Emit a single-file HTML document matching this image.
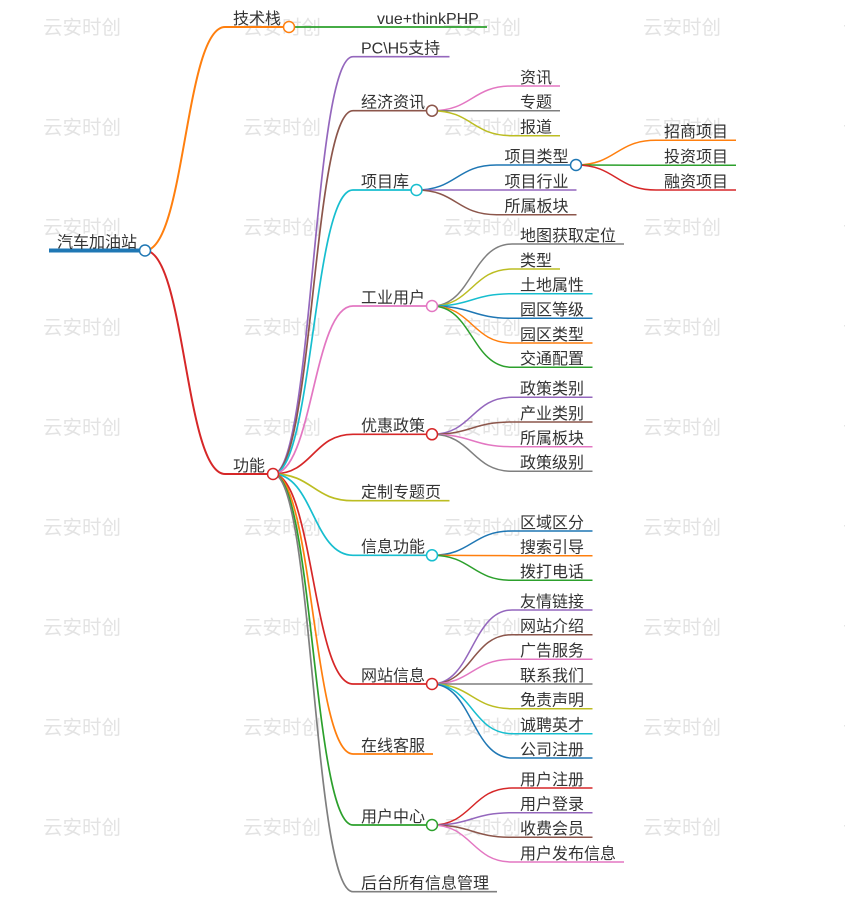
<!DOCTYPE html>
<html>
<head>
<meta charset="utf-8">
<style>
html,body{margin:0;padding:0;background:#fff;}
svg{display:block;}
.wm{font-family:"Liberation Sans","Noto Sans CJK SC",sans-serif;font-size:19.5px;fill:#e3e3e3;}
.t{font-family:"Liberation Sans","Noto Sans CJK SC",sans-serif;font-size:16px;fill:#333;}
path{fill:none;}
circle{fill:#fff;stroke-width:1.5;}
</style>
</head>
<body>
<svg width="845" height="899" viewBox="0 0 845 899" xmlns="http://www.w3.org/2000/svg">
<g class="wm">
<text x="43" y="34">云安时创</text><text x="243" y="34">云安时创</text><text x="443" y="34">云安时创</text><text x="643" y="34">云安时创</text><text x="843" y="34">云安时创</text>
<text x="43" y="134">云安时创</text><text x="243" y="134">云安时创</text><text x="443" y="134">云安时创</text><text x="643" y="134">云安时创</text><text x="843" y="134">云安时创</text>
<text x="43" y="234">云安时创</text><text x="243" y="234">云安时创</text><text x="443" y="234">云安时创</text><text x="643" y="234">云安时创</text><text x="843" y="234">云安时创</text>
<text x="43" y="334">云安时创</text><text x="243" y="334">云安时创</text><text x="443" y="334">云安时创</text><text x="643" y="334">云安时创</text><text x="843" y="334">云安时创</text>
<text x="43" y="434">云安时创</text><text x="243" y="434">云安时创</text><text x="443" y="434">云安时创</text><text x="643" y="434">云安时创</text><text x="843" y="434">云安时创</text>
<text x="43" y="534">云安时创</text><text x="243" y="534">云安时创</text><text x="443" y="534">云安时创</text><text x="643" y="534">云安时创</text><text x="843" y="534">云安时创</text>
<text x="43" y="634">云安时创</text><text x="243" y="634">云安时创</text><text x="443" y="634">云安时创</text><text x="643" y="634">云安时创</text><text x="843" y="634">云安时创</text>
<text x="43" y="734">云安时创</text><text x="243" y="734">云安时创</text><text x="443" y="734">云安时创</text><text x="643" y="734">云安时创</text><text x="843" y="734">云安时创</text>
<text x="43" y="834">云安时创</text><text x="243" y="834">云安时创</text><text x="443" y="834">云安时创</text><text x="643" y="834">云安时创</text><text x="843" y="834">云安时创</text>
</g>

<!-- root -->
<path d="M49,250.5 H145" stroke="#1f77b4" stroke-width="4"/>
<!-- depth 1 -->
<path d="M145,250.5 C185,250.5 185,27 225,27 H289" stroke="#ff7f0e" stroke-width="2"/>
<path d="M145,250.5 C185,250.5 185,474 225,474 H273" stroke="#d62728" stroke-width="2"/>
<!-- depth 2 -->
<path d="M289,27 C329,27 329,27 369,27 H487" stroke="#2ca02c" stroke-width="1.7"/>
<g stroke-width="1.7">
<path d="M273,474 C313,474 313,56.7 353,56.7 H449.5" stroke="#9467bd"/>
<path d="M273,474 C313,474 313,110.7 353,110.7 H432" stroke="#8c564b"/>
<path d="M273,474 C313,474 313,190 353,190 H416.5" stroke="#17becf"/>
<path d="M273,474 C313,474 313,306 353,306 H432" stroke="#e377c2"/>
<path d="M273,474 C313,474 313,434.3 353,434.3 H432" stroke="#d62728"/>
<path d="M273,474 C313,474 313,500.7 353,500.7 H449.5" stroke="#bcbd22"/>
<path d="M273,474 C313,474 313,555.3 353,555.3 H432" stroke="#17becf"/>
<path d="M273,474 C313,474 313,684 353,684 H432" stroke="#d62728"/>
<path d="M273,474 C313,474 313,754 353,754 H433" stroke="#ff7f0e"/>
<path d="M273,474 C313,474 313,825 353,825 H432" stroke="#2ca02c"/>
<path d="M273,474 C313,474 313,891.7 353,891.7 H497" stroke="#7f7f7f"/>
</g>
<!-- depth 3 -->
<g stroke-width="1.5">
<path d="M432,110.7 C472,110.7 472,86 512,86 H560" stroke="#e377c2"/>
<path d="M432,110.7 C472,110.7 472,110.7 512,110.7 H560" stroke="#7f7f7f"/>
<path d="M432,110.7 C472,110.7 472,135.7 512,135.7 H560" stroke="#bcbd22"/>

<path d="M416.5,190 C456.5,190 456.5,165 496.5,165 H576" stroke="#1f77b4"/>
<path d="M416.5,190 C456.5,190 456.5,190 496.5,190 H576.5" stroke="#9467bd"/>
<path d="M416.5,190 C456.5,190 456.5,214.7 496.5,214.7 H576.5" stroke="#8c564b"/>

<path d="M576,165 C616,165 616,140.3 656,140.3 H736" stroke="#ff7f0e"/>
<path d="M576,165 C616,165 616,165.3 656,165.3 H736" stroke="#2ca02c"/>
<path d="M576,165 C616,165 616,190 656,190 H736" stroke="#d62728"/>

<path d="M432,306 C472,306 472,244 512,244 H624" stroke="#7f7f7f"/>
<path d="M432,306 C472,306 472,269 512,269 H560" stroke="#bcbd22"/>
<path d="M432,306 C472,306 472,293.7 512,293.7 H592.5" stroke="#17becf"/>
<path d="M432,306 C472,306 472,318.3 512,318.3 H592.5" stroke="#1f77b4"/>
<path d="M432,306 C472,306 472,343 512,343 H592.5" stroke="#ff7f0e"/>
<path d="M432,306 C472,306 472,367.3 512,367.3 H592.5" stroke="#2ca02c"/>

<path d="M432,434.3 C472,434.3 472,397.3 512,397.3 H592.5" stroke="#9467bd"/>
<path d="M432,434.3 C472,434.3 472,422 512,422 H592.5" stroke="#8c564b"/>
<path d="M432,434.3 C472,434.3 472,446.7 512,446.7 H592.5" stroke="#e377c2"/>
<path d="M432,434.3 C472,434.3 472,471.3 512,471.3 H592.5" stroke="#7f7f7f"/>

<path d="M432,555.3 C472,555.3 472,531 512,531 H592.5" stroke="#1f77b4"/>
<path d="M432,555.3 C472,555.3 472,555.7 512,555.7 H592.5" stroke="#ff7f0e"/>
<path d="M432,555.3 C472,555.3 472,580.3 512,580.3 H592.5" stroke="#2ca02c"/>

<path d="M432,684 C472,684 472,610 512,610 H592.5" stroke="#9467bd"/>
<path d="M432,684 C472,684 472,634.7 512,634.7 H592.5" stroke="#8c564b"/>
<path d="M432,684 C472,684 472,659.3 512,659.3 H592.5" stroke="#e377c2"/>
<path d="M432,684 C472,684 472,684 512,684 H592.5" stroke="#7f7f7f"/>
<path d="M432,684 C472,684 472,708.7 512,708.7 H592.5" stroke="#bcbd22"/>
<path d="M432,684 C472,684 472,733.7 512,733.7 H592.5" stroke="#17becf"/>
<path d="M432,684 C472,684 472,758 512,758 H592.5" stroke="#1f77b4"/>

<path d="M432,825 C472,825 472,788 512,788 H592.5" stroke="#d62728"/>
<path d="M432,825 C472,825 472,812.7 512,812.7 H592.5" stroke="#9467bd"/>
<path d="M432,825 C472,825 472,837.3 512,837.3 H592.5" stroke="#8c564b"/>
<path d="M432,825 C472,825 472,862 512,862 H624" stroke="#e377c2"/>
</g>

<!-- circles -->
<circle cx="145" cy="250.5" r="5.5" stroke="#1f77b4"/>
<circle cx="289" cy="27" r="5.5" stroke="#ff7f0e"/>
<circle cx="273" cy="474" r="5.5" stroke="#d62728"/>
<circle cx="432" cy="110.7" r="5.5" stroke="#8c564b"/>
<circle cx="416.5" cy="190" r="5.5" stroke="#17becf"/>
<circle cx="576" cy="165" r="5.5" stroke="#1f77b4"/>
<circle cx="432" cy="306" r="5.5" stroke="#e377c2"/>
<circle cx="432" cy="434.3" r="5.5" stroke="#d62728"/>
<circle cx="432" cy="555.3" r="5.5" stroke="#17becf"/>
<circle cx="432" cy="684" r="5.5" stroke="#d62728"/>
<circle cx="432" cy="825" r="5.5" stroke="#2ca02c"/>

<!-- text -->
<g class="t" transform="translate(0,-0.7)">
<text x="57" y="248">汽车加油站</text>
<text x="233" y="24.5">技术栈</text>
<text x="233" y="471.5">功能</text>
<text x="377" y="24.5">vue+thinkPHP</text>
<text x="361" y="54.2">PC\H5支持</text>
<text x="361" y="108.2">经济资讯</text>
<text x="361" y="187.5">项目库</text>
<text x="361" y="303.5">工业用户</text>
<text x="361" y="431.8">优惠政策</text>
<text x="361" y="498.2">定制专题页</text>
<text x="361" y="552.8">信息功能</text>
<text x="361" y="681.5">网站信息</text>
<text x="361" y="751.5">在线客服</text>
<text x="361" y="822.5">用户中心</text>
<text x="361" y="889.2">后台所有信息管理</text>

<text x="520" y="83.5">资讯</text>
<text x="520" y="108.2">专题</text>
<text x="520" y="133.2">报道</text>
<text x="504.5" y="162.5">项目类型</text>
<text x="504.5" y="187.5">项目行业</text>
<text x="504.5" y="212.2">所属板块</text>
<text x="664" y="137.8">招商项目</text>
<text x="664" y="162.8">投资项目</text>
<text x="664" y="187.5">融资项目</text>

<text x="520" y="241.5">地图获取定位</text>
<text x="520" y="266.5">类型</text>
<text x="520" y="291.2">土地属性</text>
<text x="520" y="315.8">园区等级</text>
<text x="520" y="340.5">园区类型</text>
<text x="520" y="364.8">交通配置</text>

<text x="520" y="394.8">政策类别</text>
<text x="520" y="419.5">产业类别</text>
<text x="520" y="444.2">所属板块</text>
<text x="520" y="468.8">政策级别</text>

<text x="520" y="528.5">区域区分</text>
<text x="520" y="553.2">搜索引导</text>
<text x="520" y="577.8">拨打电话</text>

<text x="520" y="607.5">友情链接</text>
<text x="520" y="632.2">网站介绍</text>
<text x="520" y="656.8">广告服务</text>
<text x="520" y="681.5">联系我们</text>
<text x="520" y="706.2">免责声明</text>
<text x="520" y="731.2">诚聘英才</text>
<text x="520" y="755.5">公司注册</text>

<text x="520" y="785.5">用户注册</text>
<text x="520" y="810.2">用户登录</text>
<text x="520" y="834.8">收费会员</text>
<text x="520" y="859.5">用户发布信息</text>
</g>
</svg>
</body>
</html>
